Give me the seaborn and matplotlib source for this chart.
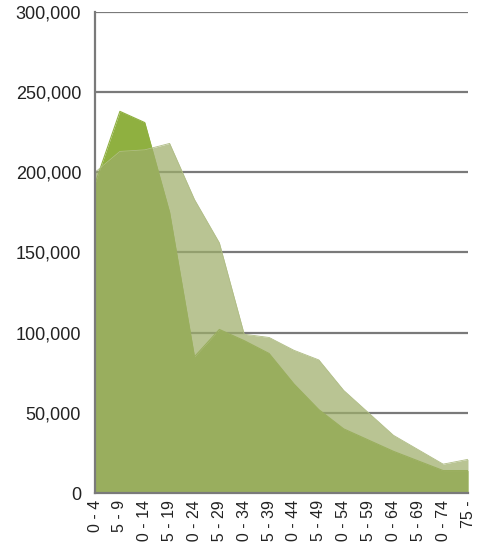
import matplotlib
matplotlib.use("Agg")
import matplotlib.pyplot as plt
import seaborn as sns
import pandas as pd

# Age groups and two population series
age_groups = ["0 - 4", "5 - 9", "10 - 14", "15 - 19", "20 - 24", "25 - 29",
              "30 - 34", "35 - 39", "40 - 44", "45 - 49", "50 - 54", "55 - 59",
              "60 - 64", "65 - 69", "70 - 74", "75 -"]
series_back = [193000, 238000, 231000, 175000, 85000, 102000, 95000, 87000,
               68000, 52000, 40000, 33000, 26000, 20000, 14000, 14000]
series_front = [200000, 213000, 214000, 218000, 183000, 156000, 99000, 97000,
                89000, 83000, 64000, 50000, 36000, 27000, 18000, 21000]

df = pd.DataFrame({"pos": range(len(age_groups)), "back": series_back, "front": series_front})

sns.set_style("white")
plt.rcParams['font.family'] = ['Liberation Sans', 'DejaVu Sans']

fig = plt.figure(figsize=(4.8, 5.42), dpi=100)
ax = fig.add_axes([0.198, 0.0904, 0.777, 0.8876])

# gridlines behind areas
for v in [50000, 100000, 150000, 200000, 250000, 300000]:
    ax.axhline(v, color="#7a7a7a", lw=1.6, zorder=0.5)

ax.fill_between(df["pos"], df["back"], color="#8fb040", lw=0, zorder=1)
sns.lineplot(data=df, x="pos", y="back", color="#8fb040", lw=0.8, ax=ax, zorder=1.1)
ax.fill_between(df["pos"], df["front"], color="#9eae6a", alpha=0.72, lw=0, zorder=2)
sns.lineplot(data=df, x="pos", y="front", color="#b0bd86", lw=0.6, ax=ax, zorder=2.1)

ax.set_xlim(0, len(age_groups) - 1)
ax.set_ylim(0, 300000)
ax.set_yticks([0, 50000, 100000, 150000, 200000, 250000, 300000])
ax.set_yticklabels(["0", "50,000", "100,000", "150,000", "200,000", "250,000", "300,000"],
                   fontsize=13, color="#222222")
ax.set_xticks(range(len(age_groups)))
ax.set_xticklabels(age_groups, rotation=90, fontsize=11.5, color="#222222")
ax.tick_params(axis="y", length=0, pad=10)
ax.tick_params(axis="x", length=0, pad=5)
ax.set_xlabel("")
ax.set_ylabel("")

for s in ["top", "right"]:
    ax.spines[s].set_visible(False)
for s in ["left", "bottom"]:
    ax.spines[s].set_color("#7a7a7a")
    ax.spines[s].set_linewidth(1.6)
    ax.spines[s].set_zorder(3)

fig.savefig("out.png", dpi=100)
